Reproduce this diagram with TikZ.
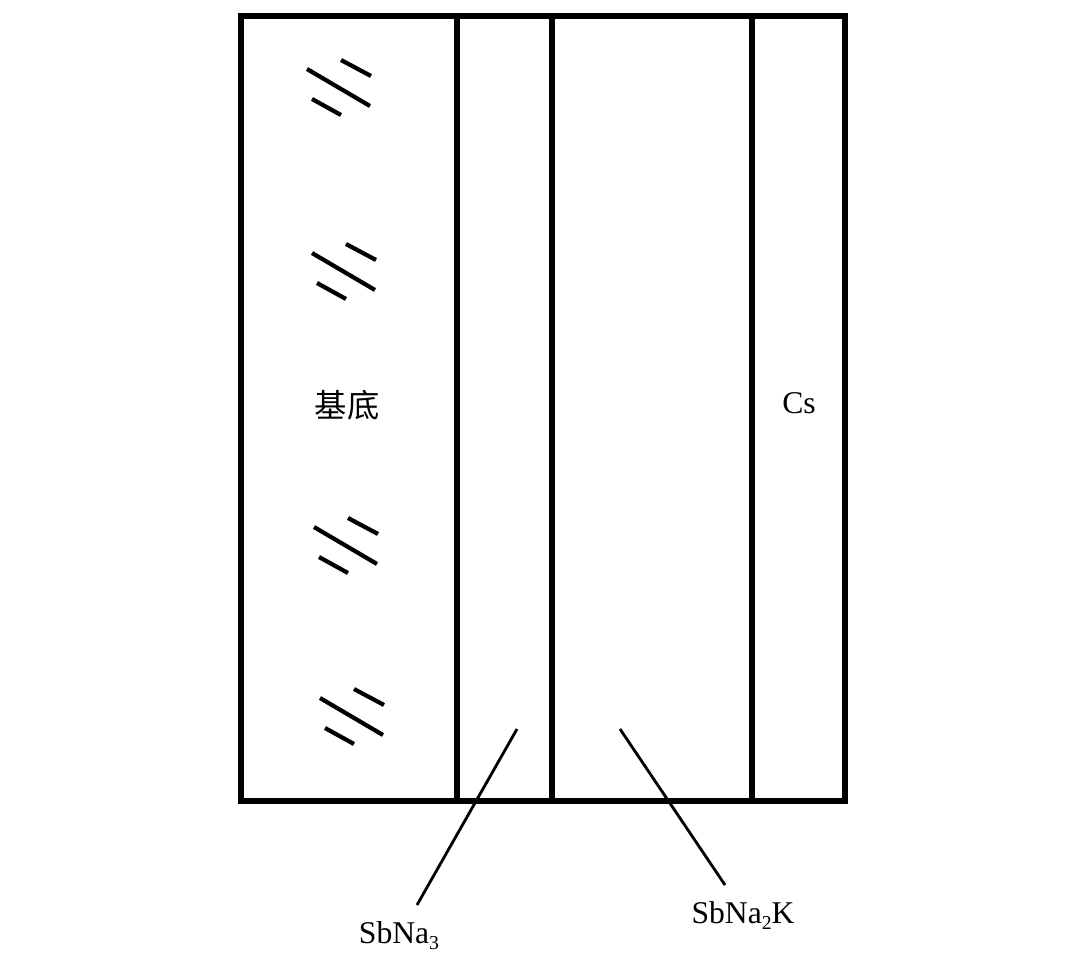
\documentclass[tikz,border=0pt]{standalone}
\usepackage{fontspec}
\setmainfont{Liberation Serif}
\newfontfamily\cjk{Noto Sans CJK SC}

\tikzset{
  layer/.style={line width=4.5pt},
  hatch/.style={line width=3pt},
  leader/.style={line width=2pt},
  lbl/.style={font=\fontsize{22.5}{26}\selectfont, inner sep=0pt, anchor=base}
}
\newcommand{\hatchmark}[2]{%
  \draw[hatch] (#1,#2) -- ++(63,37);
  \draw[hatch] (#1+34,#2-9) -- ++(30,16);
  \draw[hatch] (#1+5,#2+30) -- ++(29,16);
}
\newcommand{\lowsub}[1]{\raisebox{-0.45ex}{\fontsize{14}{16}\selectfont #1}}

\begin{document}
\begin{tikzpicture}[x=0.025cm,y=-0.025cm]
      \useasboundingbox (0,0) rectangle (1080,961);
      % layers
      \draw[layer] (241,16) rectangle (845,801);
      \draw[layer] (457,16) -- (457,801);
      \draw[layer] (552,16) -- (552,801);
      \draw[layer] (752,16) -- (752,801);
      % substrate marks
      \hatchmark{307}{69}
      \hatchmark{312}{253}
      \hatchmark{314}{527}
      \hatchmark{320}{698}
      \draw node[lbl, anchor=center] (sub) at (347,405) {\fontsize{23}{26}\selectfont\cjk 基底};
      \draw node[lbl] (cs) at (799,413) {Cs};
      \draw node[lbl] (na3) at (399,943) {SbNa\lowsub{3}};
      \draw node[lbl] (na2k) at (743,923) {SbNa\lowsub{2}K};
      \coordinate (p1) at (517,729);
      \coordinate (p2) at (620,729);
      \coordinate (e1) at (417,905);
      \coordinate (e2) at (725,885);
      \draw[leader] (p1) -- (e1);
      \draw[leader] (p2) -- (e2);
  \end{tikzpicture}
\end{document}
